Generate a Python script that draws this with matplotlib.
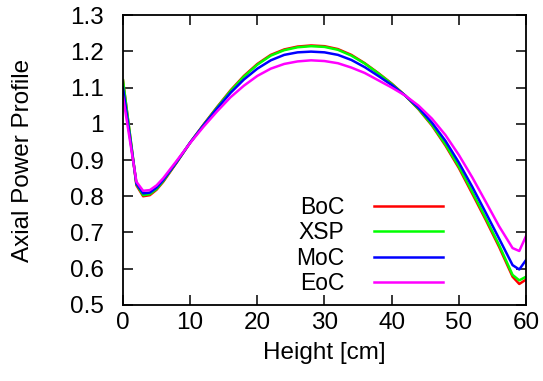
import numpy as np
import matplotlib
matplotlib.use('Agg')
import matplotlib.pyplot as plt

plt.rcParams['font.family'] = ['Liberation Sans', 'DejaVu Sans']

height = [0, 2, 3, 4, 5, 6, 8, 10, 12, 14, 16, 18, 20, 22, 24, 26, 28, 30,
          32, 34, 36, 38, 40, 42, 44, 46, 48, 50, 52, 54, 56, 58, 59, 60]

boc = [1.120, 0.830, 0.800, 0.803, 0.818, 0.840, 0.893, 0.948, 0.998, 1.046,
       1.092, 1.132, 1.165, 1.190, 1.205, 1.213, 1.216, 1.214, 1.206, 1.190,
       1.167, 1.140, 1.111, 1.078, 1.040, 0.995, 0.940, 0.878, 0.807, 0.735,
       0.660, 0.578, 0.558, 0.570]
xsp = [1.120, 0.833, 0.803, 0.806, 0.820, 0.842, 0.894, 0.948, 0.997, 1.045,
       1.090, 1.130, 1.163, 1.188, 1.203, 1.211, 1.214, 1.212, 1.204, 1.188,
       1.166, 1.139, 1.110, 1.078, 1.041, 0.997, 0.943, 0.882, 0.812, 0.740,
       0.665, 0.583, 0.568, 0.578]
moc = [1.100, 0.835, 0.808, 0.810, 0.824, 0.845, 0.895, 0.948, 0.996, 1.042,
       1.085, 1.122, 1.152, 1.175, 1.190, 1.197, 1.199, 1.197, 1.190, 1.176,
       1.156, 1.132, 1.107, 1.078, 1.044, 1.003, 0.953, 0.893, 0.826, 0.755,
       0.683, 0.610, 0.598, 0.624]
eoc = [1.075, 0.840, 0.815, 0.817, 0.830, 0.850, 0.898, 0.947, 0.992, 1.034,
       1.073, 1.105, 1.132, 1.152, 1.165, 1.172, 1.175, 1.173, 1.167, 1.155,
       1.140, 1.120, 1.100, 1.078, 1.050, 1.014, 0.969, 0.914, 0.852, 0.785,
       0.717, 0.657, 0.649, 0.690]

fig = plt.figure(figsize=(5.43, 3.81), dpi=100)
ax = fig.add_axes([0.2265, 0.1995, 0.7422, 0.7611])

lw = 1.8
ax.plot(height, boc, color='#ff0000', linewidth=lw, label='BoC')
ax.plot(height, xsp, color='#00ff00', linewidth=lw, label='XSP')
ax.plot(height, moc, color='#0000ff', linewidth=lw, label='MoC')
ax.plot(height, eoc, color='#ff00ff', linewidth=lw, label='EoC')

ax.set_xlim(0, 60)
ax.set_ylim(0.5, 1.3)
ax.set_xticks(np.arange(0, 61, 10))
ax.set_yticks(np.arange(0.5, 1.31, 0.1))
ax.set_yticklabels(['0.5', '0.6', '0.7', '0.8', '0.9', '1', '1.1', '1.2', '1.3'])

fs = 17.5
ax.tick_params(direction='in', length=7, width=1.1, top=True, right=True,
               labelsize=fs)
ax.tick_params(axis='x', pad=5)
ax.tick_params(axis='y', pad=14)
for s in ax.spines.values():
    s.set_linewidth(1.3)

ax.set_xlabel('Height [cm]', fontsize=fs, labelpad=6)
ax.set_ylabel('Axial Power Profile', fontsize=fs, labelpad=26)

ax.legend(loc='lower right', bbox_to_anchor=(0.794, 0.035), frameon=False,
          markerfirst=False, fontsize=16.5, handlelength=3.0, handletextpad=1.3,
          labelspacing=0.1, borderpad=0, borderaxespad=0)

fig.savefig('out.png', dpi=100)
